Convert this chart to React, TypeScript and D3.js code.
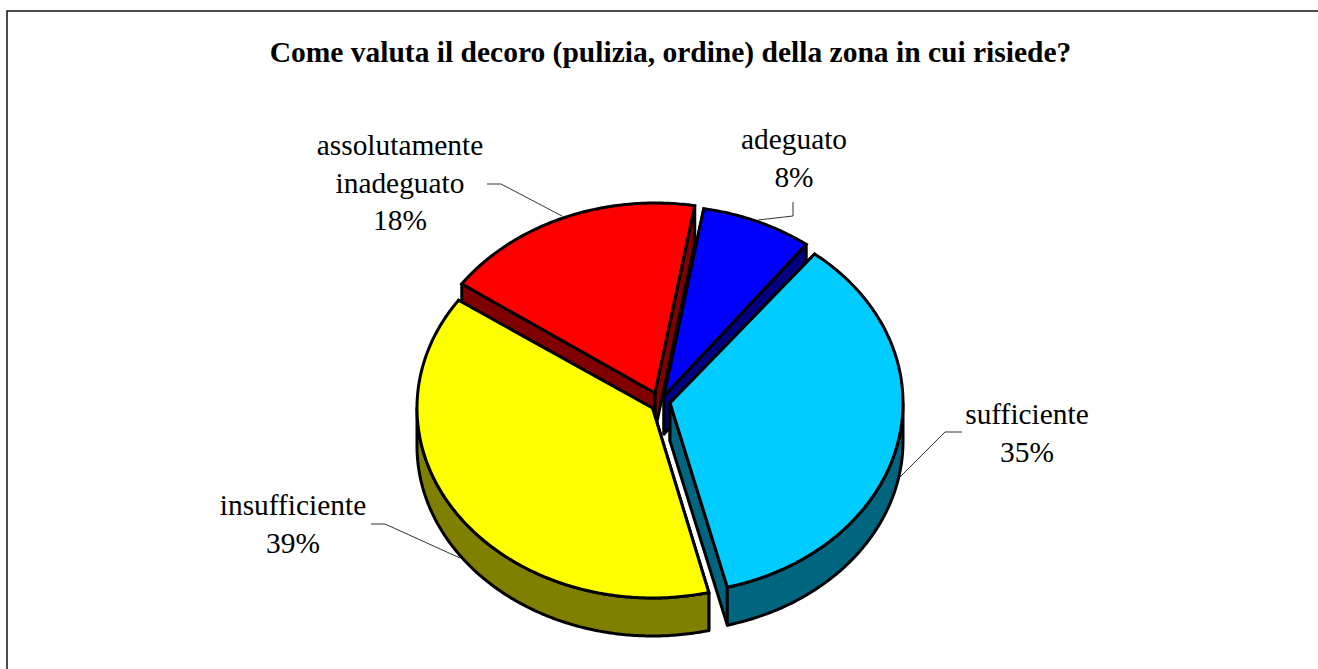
import React from "react";
import * as d3 from "d3";

const title = "Come valuta il decoro (pulizia, ordine) della zona in cui risiede?";
// Paint order is back to front: red, blue, yellow, cyan
const categories = ["assolutamente inadeguato", "adeguato", "insufficiente", "sufficiente"];
const sliceOrder = ["adeguato", "sufficiente", "insufficiente", "assolutamente inadeguato"];
const shares = [7.6, 35.75, 38.55, 18.1];
const percentLabels = ["8%", "35%", "39%", "18%"];
const topColors = ["#0000FF", "#00CCFF", "#FFFF00", "#FF0000"];
const sideColors = ["#000080", "#006680", "#808000", "#800000"];

const W = 1318, H = 669;
const RY = 190, DEPTH = 38;
const START = (9.7 * Math.PI) / 180;
const DEG = Math.PI / 180;
const radiiX = [236, 233, 235.5, 236];
const startTrim = [0, 1.3 * DEG, 0.4 * DEG, 0.5 * DEG];
const centres: [number, number][] = [[664, 396], [670, 403], [652.5, 408], [655, 393]];

const labelLines: string[][] = [["adeguato"], ["sufficiente"], ["insufficiente"], ["assolutamente", "inadeguato"]];
const labelX = [794, 1027, 293, 400];
const labelY = [140, 415, 506, 146];
const leaders: [number, number][][] = [
  [[793, 202], [793, 216], [758, 220]],
  [[962, 432], [945, 432], [899, 478]],
  [[371, 524], [385, 524], [460, 558]],
  [[487, 184], [501, 184], [562, 216]],
];

const lineGen = d3.line<[number, number]>().x((d) => d[0]).y((d) => d[1]);

export default function App() {
  const arcs = d3
    .pie<number>()
    .sort(null)
    .startAngle(START)
    .endAngle(START + 2 * Math.PI)(shares);

  return (
    <svg
      width={W}
      height={H}
      viewBox={`0 0 ${W} ${H}`}
      style={{ position: "absolute", left: 0, top: 0, display: "block", background: "#fff" }}
    >
      <rect x={7} y={11} width={W + 20} height={H + 20} fill="#fff" stroke="#000" strokeWidth={1.4} />
      <text
        x={670.5}
        y={62}
        textAnchor="middle"
        fontFamily="'Liberation Serif', serif"
        fontWeight="bold"
        fontSize={29.5}
        fill="#000"
      >
        {title}
      </text>
      {categories.map((name) => {
        const i = sliceOrder.indexOf(name);
        const a = arcs[i];
        const c = centres[i];
        const rx = radiiX[i];
        const a0 = a.startAngle + startTrim[i];
        const a1 = a.endAngle;
        const pt = (t: number, dz = 0): [number, number] => [
          c[0] + rx * Math.sin(t),
          c[1] - RY * Math.cos(t) + dz,
        ];
        const sample = (from: number, to: number, dz = 0): [number, number][] => {
          const n = Math.max(2, Math.ceil(Math.abs(to - from) / 0.01));
          return d3.range(n + 1).map((k) => pt(from + ((to - from) * k) / n, dz));
        };
        const face = (t: number): [number, number][] => [[c[0], c[1]], pt(t), pt(t, DEPTH), [c[0], c[1] + DEPTH]];
        const rimA = Math.max(a0, Math.PI / 2);
        const rimB = Math.min(a1, (3 * Math.PI) / 2);
        const stroke = { stroke: "#000", strokeWidth: 3, strokeLinejoin: "round" as const };
        return (
          <g key={name}>
            <path d={lineGen(face(a0))! + "Z"} fill={sideColors[i]} {...stroke} />
            <path d={lineGen(face(a1))! + "Z"} fill={sideColors[i]} {...stroke} />
            {rimB > rimA && (
              <path
                d={lineGen([...sample(rimA, rimB), ...sample(rimB, rimA, DEPTH)])! + "Z"}
                fill={sideColors[i]}
                {...stroke}
              />
            )}
            <path
              d={lineGen([[c[0], c[1]], ...sample(a0, a1)])! + "Z"}
              fill={topColors[i]}
              stroke="#000"
              strokeWidth={3}
              strokeLinejoin="miter"
            />
          </g>
        );
      })}
      {leaders.map((l, i) => (
        <path key={i} d={lineGen(l)!} fill="none" stroke="#000" strokeWidth={0.8} />
      ))}
      {sliceOrder.map((name, i) => {
        const lines = [...labelLines[i], percentLabels[i]];
        return (
          <text
            key={name}
            textAnchor="middle"
            fontFamily="'Liberation Serif', serif"
            fontSize={29.4}
            fill="#000"
          >
            {lines.map((s, j) => (
              <tspan key={j} x={labelX[i]} y={labelY[i] + 9 + j * 37.5}>
                {s}
              </tspan>
            ))}
          </text>
        );
      })}
    </svg>
  );
}
